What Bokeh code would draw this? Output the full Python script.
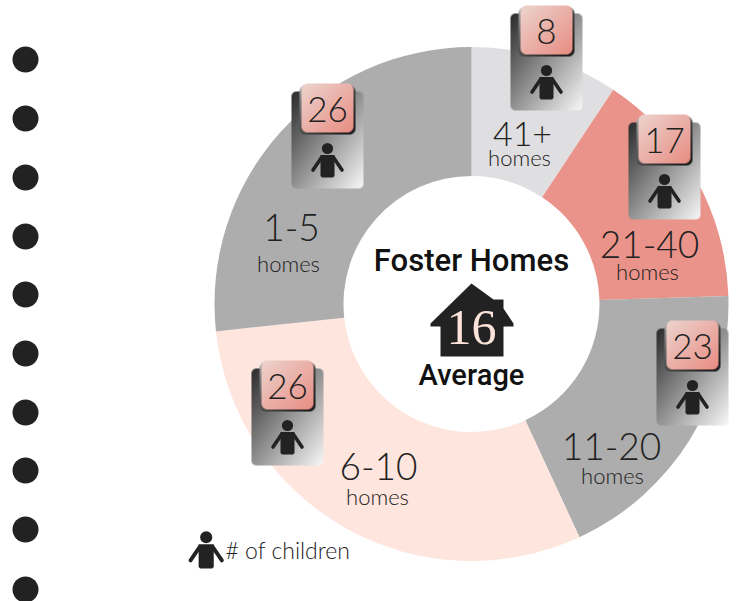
import numpy as np
from bokeh.plotting import figure
from bokeh.models import ColumnDataSource
from bokeh.core.properties import value
from bokeh.embed import file_html
from bokeh.resources import INLINE

# ---- data
CATEGORIES = ["41+", "21-40", "11-20", "6-10", "1-5"]
HOME_SHARE = [9.3, 15.2, 18.6, 30.2, 26.7]
CHILDREN = [8, 17, 23, 26, 26]
AVERAGE = "16"

# ---- styles
WEDGE_COLORS = ["#dfdee0", "#ea938a", "#adadad", "#fee5dd", "#adadad"]
INK = "#222222"
LIGHT = "Lato Light"
DISPLAY = "Roboto Medium"

W, H = 736, 601
CX, CY, R_OUT, R_IN = 471, 303.5, 257, 128


def Y(py):
    return H - py


p = figure(width=W, height=H, x_range=(0, W), y_range=(0, H), output_backend="svg",
           toolbar_location=None, min_border=0, outline_line_color=None,
           margin=(0, 0, 0, 0))
p.axis.visible = False
p.grid.visible = False

# ---- margin dots
dot_y = [59, 118, 177, 236, 294, 353, 412, 470, 529, 589]
p.circle(x=[25] * len(dot_y), y=[Y(v) for v in dot_y], radius=13, fill_color=INK, line_color=None)

# ---- donut
cum = np.cumsum([0] + HOME_SHARE) / sum(HOME_SHARE)
start = np.pi / 2 - cum[:-1] * 2 * np.pi
end = np.pi / 2 - cum[1:] * 2 * np.pi
src = ColumnDataSource(dict(cat=CATEGORIES, share=HOME_SHARE, start=start, end=end, color=WEDGE_COLORS))
p.annular_wedge(x=CX, y=Y(CY), inner_radius=R_IN, outer_radius=R_OUT, start_angle="start", end_angle="end",
                direction="clock", fill_color="color", line_color=None, source=src)


def rgba_image(w, h, c0, c1, radius, power=1.0):
    yy, xx = np.mgrid[0:h, 0:w]
    t = ((xx + 0.5) / w + (yy + 0.5) / h) / 2
    t = t ** power
    c0, c1 = np.array(c0, float), np.array(c1, float)
    dx = np.maximum(np.maximum(radius - xx - 0.5, xx + 0.5 - (w - radius)), 0)
    dy = np.maximum(np.maximum(radius - yy - 0.5, yy + 0.5 - (h - radius)), 0)
    a = np.clip(radius - np.hypot(dx, dy) + 0.5, 0, 1)
    img = np.zeros((h, w), dtype=np.uint32)
    view = img.view(dtype=np.uint8).reshape((h, w, 4))
    for i in range(3):
        view[:, :, i] = np.round(c0[i] + (c1[i] - c0[i]) * t)
    view[:, :, 3] = np.round(a * 255)
    return img[::-1]


def place(x0, y0, w, h, c0, c1, radius, power=1.0):
    p.image_rgba(image=[rgba_image(w, h, c0, c1, radius, power)], x=x0, y=Y(y0 + h), dw=w, dh=h)


def person(cx, cy, s=1.0):
    """cx, cy = page position of the head centre"""
    p.circle(x=[cx], y=[Y(cy)], radius=5.6 * s, fill_color=INK, line_color=None)
    bw, top, bot = 7 * s, 6.5 * s, 29 * s
    p.patch(x=[cx - bw, cx + bw, cx + bw, cx + bw - 1.5, cx - bw + 1.5, cx - bw],
            y=[Y(cy + top), Y(cy + top), Y(cy + bot - 1.5), Y(cy + bot), Y(cy + bot), Y(cy + bot - 1.5)],
            fill_color=INK, line_color=None)
    p.multi_line(xs=[[cx - 6 * s, cx - 14.5 * s], [cx + 6 * s, cx + 14.5 * s]],
                 ys=[[Y(cy + 9 * s), Y(cy + 21.5 * s)], [Y(cy + 9 * s), Y(cy + 21.5 * s)]],
                 line_color=INK, line_width=3.6 * s, line_cap="round")


card_x = [510, 628, 656, 291, 251]
card_y = [13, 122, 328, 91, 368]
CARD_W, CARD_H = 72, 97
for n, x0, y0 in zip(CHILDREN, card_x, card_y):
    place(x0, y0, CARD_W, CARD_H, (42, 42, 42), (248, 248, 248), 5)
    place(x0 + 8, y0 - 6, 56, 49, (205, 205, 205), (20, 20, 20), 6, 0.5)
    place(x0 + 10, y0 - 8, 52, 49, (236, 212, 206), (232, 140, 130), 6)
    p.text(x=[x0 + 36], y=[Y(y0 + 18)], text=[str(n)], text_font=value(LIGHT), text_font_size="35px",
           text_color=INK, text_align="center", text_baseline="middle")
    person(x0 + 36, y0 + 57)

# ---- slice labels
big_x = [522, 649, 611, 378, 291]
big_y = [133, 244, 446, 466, 227]
big_size = ["34px", "37px", "37px", "37px", "37px"]
homes_x = [519, 647, 612, 377, 288]
homes_y = [157, 271, 475, 496, 263]
p.text(x=big_x, y=[Y(v) for v in big_y], text=CATEGORIES, text_font=value(LIGHT), text_font_size=big_size,
       text_color=INK, text_align="center", text_baseline="middle")
p.text(x=homes_x, y=[Y(v) for v in homes_y], text=["homes"] * 5, text_font=value(LIGHT), text_font_size="22px",
       text_color=INK, text_align="center", text_baseline="middle")

# ---- centre
p.text(x=[471], y=[Y(260)], text=["Foster Homes"], text_font=value(DISPLAY), text_font_size="31px",
       text_color="#111111", text_align="center", text_baseline="middle")
p.text(x=[471], y=[Y(374)], text=["Average"], text_font=value(DISPLAY), text_font_size="29px",
       text_color="#111111", text_align="center", text_baseline="middle")
p.patch(x=[471, 493, 493, 503, 503, 513, 513, 503, 503, 440, 440, 430, 430],
        y=[Y(v) for v in [283, 299, 299, 299, 308, 323, 326, 326, 356, 356, 326, 326, 323]],
        fill_color=INK, line_color=None)
p.text(x=[471], y=[Y(327)], text=[AVERAGE], text_font=value("Liberation Serif"), text_font_size="50px",
       text_color="#fde3da", text_align="center", text_baseline="middle")

# ---- key
person(205.7, 536.7, 1.08)
p.text(x=[225], y=[Y(549)], text=["# of children"], text_font=value(LIGHT), text_font_size="23px",
       text_color=INK, text_align="left", text_baseline="middle")

open("out.html", "w").write(file_html(p, INLINE))
